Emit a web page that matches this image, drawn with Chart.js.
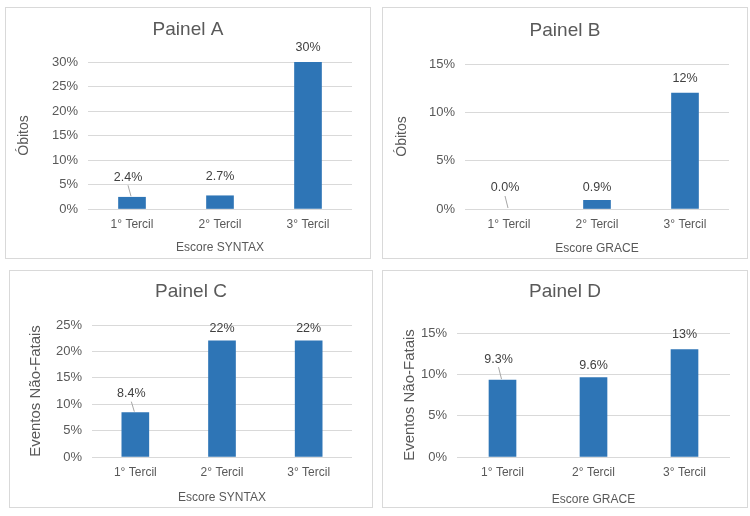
<!DOCTYPE html>
<html>
<head>
<meta charset="utf-8">
<script src="https://cdn.jsdelivr.net/npm/chart.js@4/dist/chart.umd.min.js"></script>
<style>
  body { margin: 0; background: #fff; width: 750px; height: 516px; position: relative; overflow: hidden; }
  .panel { position: absolute; border: 1px solid #d9d9d9; background: #fff; }
  .panel canvas { display: block; }
</style>
</head>
<body>
<div class="panel" style="left:5px;top:7px;width:364px;height:250px"><canvas id="chart-a" width="364" height="250"></canvas></div>
<div class="panel" style="left:382px;top:7px;width:364px;height:250px"><canvas id="chart-b" width="364" height="250"></canvas></div>
<div class="panel" style="left:9px;top:270px;width:362px;height:236px"><canvas id="chart-c" width="362" height="236"></canvas></div>
<div class="panel" style="left:382px;top:270px;width:364px;height:236px"><canvas id="chart-d" width="364" height="236"></canvas></div>
<script>
const tercis = ['1° Tercil', '2° Tercil', '3° Tercil'];

const obitosSyntax = [2.4, 2.7, 30];
const obitosGrace = [0.0, 0.9, 12];
const eventosSyntax = [8.4, 22, 22];
const eventosGrace = [9.3, 9.6, 13];

const FONT = '"Liberation Sans", Arial, sans-serif';
const GREY = '#595959';
const BLUE = '#2e75b6';

function formatPct(v) {
  return v < 10 ? v.toFixed(1) + '%' : Math.round(v) + '%';
}

// title centred on the whole panel, not on the chart area
const panelTitle = {
  id: 'panelTitle',
  afterDraw(chart, args, opts) {
    const ctx = chart.ctx;
    ctx.save();
    ctx.font = '19px ' + FONT;
    ctx.fillStyle = GREY;
    ctx.textAlign = 'center';
    ctx.textBaseline = 'middle';
    ctx.fillText(opts.text, chart.width / 2, opts.y);
    ctx.restore();
  }
};

// labels above the bars, with a small leader line on the first one
const barLabels = {
  id: 'barLabels',
  afterDatasetsDraw(chart, args, opts) {
    const ctx = chart.ctx;
    const meta = chart.getDatasetMeta(0);
    const values = chart.data.datasets[0].data;
    ctx.save();
    ctx.font = '12.5px ' + FONT;
    ctx.fillStyle = '#404040';
    ctx.textAlign = 'center';
    ctx.textBaseline = 'middle';
    meta.data.forEach((bar, i) => {
      const leader = i === 0;
      const tx = leader ? bar.x - 4 : bar.x;
      const ty = bar.y - opts.lifts[i];
      ctx.fillText(formatPct(values[i]), tx, ty);
      if (leader) {
        ctx.strokeStyle = '#a6a6a6';
        ctx.lineWidth = 1;
        ctx.beginPath();
        ctx.moveTo(tx, ty + 8);
        ctx.lineTo(bar.x - 1, bar.y - 1);
        ctx.stroke();
      }
    });
    ctx.restore();
  }
};

function makePanel(canvasId, title, values, yTitle, xTitle, maxY, box) {
  const canvas = document.getElementById(canvasId);
  const W = canvas.width, H = canvas.height;
  return new Chart(canvas, {
    type: 'bar',
    data: {
      labels: tercis,
      datasets: [{
        data: values,
        backgroundColor: (c) => (c.raw > 0 ? BLUE : 'rgba(0,0,0,0)'),
        barThickness: 27
      }]
    },
    options: {
      responsive: false,
      animation: false,
      layout: { padding: { left: 0, right: W - box.right, top: box.top, bottom: 0 } },
      plugins: {
        legend: { display: false },
        tooltip: { enabled: false },
        title: { display: false },
        panelTitle: { text: title, y: box.titleY },
        barLabels: { lifts: box.lifts }
      },
      scales: {
        x: {
          grid: { display: false, drawTicks: false },
          border: { display: false },
          ticks: { color: GREY, font: { family: FONT, size: 12 }, padding: 8 },
          title: {
            display: true,
            text: xTitle,
            color: GREY,
            font: { family: FONT, size: 12 },
            padding: { top: 0, bottom: H - box.xTitleY - 7.2 - 2 }
          },
          afterFit(s) { s.height = H - box.bottom; }
        },
        y: {
          min: 0,
          max: maxY,
          grid: { color: '#d9d9d9', drawTicks: false },
          border: { display: false },
          ticks: {
            stepSize: 5,
            color: GREY,
            font: { family: FONT, size: 13 },
            padding: 10,
            callback: (v) => v + '%'
          },
          title: {
            display: true,
            text: yTitle,
            color: GREY,
            font: { family: FONT, size: box.yTitleSize },
            padding: { top: box.yTitleX - box.yTitleSize * 0.6 + 2, bottom: 0 }
          },
          afterFit(s) { s.width = box.left; }
        }
      }
    },
    plugins: [barLabels, panelTitle]
  });
}

makePanel('chart-a', 'Painel A', obitosSyntax, 'Óbitos', 'Escore SYNTAX', 30,
  { left: 82, right: 346, top: 54, bottom: 201, titleY: 22, xTitleY: 238, yTitleX: 16.5, yTitleSize: 14, lifts: [20, 19, 14] });
makePanel('chart-b', 'Painel B', obitosGrace, 'Óbitos', 'Escore GRACE', 15,
  { left: 82, right: 346, top: 56, bottom: 201, titleY: 23, xTitleY: 239, yTitleX: 17, yTitleSize: 14, lifts: [21, 13, 14] });
makePanel('chart-c', 'Painel C', eventosSyntax, 'Eventos Não-Fatais', 'Escore SYNTAX', 25,
  { left: 82, right: 342, top: 54, bottom: 186, titleY: 21, xTitleY: 225, yTitleX: 24, yTitleSize: 15, lifts: [19, 12, 12] });
makePanel('chart-d', 'Painel D', eventosGrace, 'Eventos Não-Fatais', 'Escore GRACE', 15,
  { left: 74, right: 347, top: 62, bottom: 186, titleY: 21, xTitleY: 227, yTitleX: 25, yTitleSize: 15, lifts: [21, 12, 15] });
</script>
</body>
</html>
